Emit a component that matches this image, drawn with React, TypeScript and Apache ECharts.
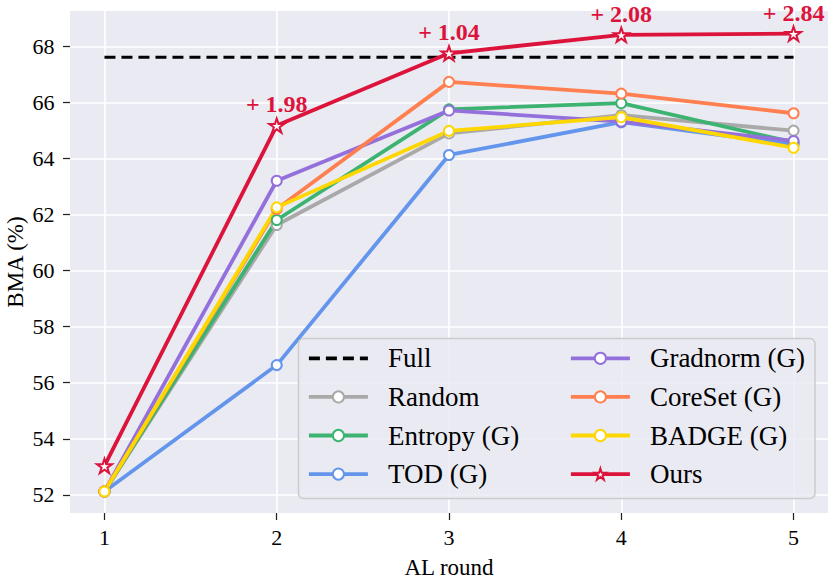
import React, { useEffect, useRef } from "react";
import * as echarts from "echarts";

const rounds = [1, 2, 3, 4, 5];
const yTicks = [52, 54, 56, 58, 60, 62, 64, 66, 68];

const fullValues = [67.62, 67.62, 67.62, 67.62, 67.62];
const randomValues = [52.12, 61.63, 64.9, 65.55, 65.0];
const entropyValues = [52.12, 61.81, 65.76, 65.98, 64.58];
const todValues = [52.12, 56.63, 64.13, 65.3, 64.5];
const gradnormValues = [52.12, 63.21, 65.72, 65.32, 64.63];
const coresetValues = [52.12, 62.2, 66.74, 66.32, 65.62];
const badgeValues = [52.12, 62.26, 64.99, 65.48, 64.39];
const oursValues = [53.03, 65.18, 67.76, 68.42, 68.46];
const gains = [null, 1.98, 1.04, 2.08, 2.84];

const FONT = "'Liberation Serif', 'Times New Roman', serif";
const STAR =
  "path://M100,0 L122.45,69.1 L195.1,69.1 L136.3,111.8 L158.8,180.9 L100,138.2 L41.2,180.9 L63.7,111.8 L4.9,69.1 L77.55,69.1 Z";

const methods = [
  { name: "Random", color: "#A9A9A9", values: randomValues },
  { name: "Entropy (G)", color: "#3CB371", values: entropyValues },
  { name: "TOD (G)", color: "#6495ED", values: todValues },
  { name: "Gradnorm (G)", color: "#9370DB", values: gradnormValues },
  { name: "CoreSet (G)", color: "#FF7F50", values: coresetValues },
  { name: "BADGE (G)", color: "#FFD700", values: badgeValues },
];

export default function App() {
  const ref = useRef<HTMLDivElement>(null);
  useEffect(() => {
    if (!ref.current) return;
    const chart = echarts.init(ref.current, null, { renderer: "svg" });
    const pair = (vals: number[]) => rounds.map((r, i) => [r, vals[i]]);

    const legendText = {
      fontFamily: FONT,
      fontSize: 27,
      lineHeight: 27,
      color: "#000",
      padding: [0, 0, 0, 15],
    };

    const series: any[] = [
      {
        type: "line",
        name: "__grid",
        data: [],
        z: 1,
        silent: true,
        markLine: {
          silent: true,
          z: 1,
          symbol: ["none", "none"],
          label: { show: false },
          lineStyle: { color: "#ffffff", width: 1.6, type: "solid" },
          emphasis: { disabled: true },
          data: [
            ...yTicks.map((v) => ({ yAxis: v })),
            ...rounds.map((v) => ({ xAxis: v })),
          ],
        },
      },
      {
        type: "line",
        name: "Full",
        data: pair(fullValues),
        z: 2,
        symbol: "none",
        lineStyle: { color: "#000", width: 3, type: [11, 6] },
        itemStyle: { color: "#000" },
        emphasis: { disabled: true },
      },
      ...methods.map((m) => ({
        type: "line",
        name: m.name,
        data: pair(m.values),
        z: 2,
        symbol: "circle",
        symbolSize: 10,
        lineStyle: { color: m.color, width: 3.8 },
        itemStyle: { color: "#ffffff", borderColor: m.color, borderWidth: 2 },
        emphasis: { disabled: true },
      })),
      {
        type: "line",
        name: "Ours",
        data: pair(oursValues),
        z: 3,
        symbol: STAR,
        symbolSize: 15,
        symbolKeepAspect: true,
        lineStyle: { color: "#DC143C", width: 3.8 },
        itemStyle: { color: "#ffffff", borderColor: "#DC143C", borderWidth: 2 },
        emphasis: { disabled: true },
        label: {
          show: true,
          position: "top",
          distance: 3,
          fontFamily: FONT,
          fontSize: 24,
          lineHeight: 20,
          fontWeight: "bold",
          color: "#DC143C",
          formatter: (p: any) => {
            const g = gains[p.dataIndex];
            return g == null ? "" : "+ " + g.toFixed(2);
          },
        },
      },
    ];

    chart.setOption({
      animation: false,
      textStyle: { fontFamily: FONT },
      grid: {
        left: 70,
        top: 11,
        width: 758,
        height: 502,
        show: true,
        backgroundColor: "#EAEAF2",
        borderWidth: 0,
        containLabel: false,
        outerBoundsMode: "none",
      },
      xAxis: {
        type: "value",
        min: 0.8,
        max: 5.2,
        name: "AL round",
        nameLocation: "middle",
        nameGap: 44,
        nameMoveOverlap: false,
        nameTextStyle: { fontFamily: FONT, fontSize: 23, lineHeight: 20, color: "#000" },
        axisLine: { show: false },
        axisTick: {
          show: true,
          customValues: rounds,
          length: 7,
          lineStyle: { color: "#222", width: 1.25 },
        },
        axisLabel: {
          customValues: rounds,
          margin: 13.5,
          fontFamily: FONT,
          fontSize: 22,
          color: "#000",
        },
        splitLine: { show: false },
      },
      yAxis: {
        type: "value",
        min: 51.35,
        max: 69.27,
        name: "BMA (%)",
        nameLocation: "middle",
        nameGap: 45,
        nameMoveOverlap: false,
        nameTextStyle: { fontFamily: FONT, fontSize: 23, lineHeight: 20, color: "#000" },
        axisLine: { show: false },
        axisTick: {
          show: true,
          customValues: yTicks,
          length: 7,
          lineStyle: { color: "#222", width: 1.25 },
        },
        axisLabel: {
          customValues: yTicks,
          margin: 15.5,
          fontFamily: FONT,
          fontSize: 22,
          color: "#000",
        },
        splitLine: { show: false },
      },
      graphic: [
        {
          type: "rect",
          z: 50,
          shape: { x: 298.5, y: 338.5, width: 516.5, height: 160, r: 5 },
          style: { fill: "rgba(234,234,242,0.8)", stroke: "#cccccc", lineWidth: 1.5 },
          silent: true,
        },
      ],
      legend: [
        {
          data: [
            { name: "Full", itemStyle: { opacity: 0 } },
            "Random",
            "Entropy (G)",
            "TOD (G)",
          ],
          orient: "vertical",
          left: 307,
          top: 344.8,
          padding: 0,
          itemGap: 11.6,
          itemWidth: 59,
          itemHeight: 14,
          z: 60,
          selectedMode: false,
          lineStyle: { width: 3.8 },
          textStyle: legendText,
        },
        {
          data: ["Gradnorm (G)", "CoreSet (G)", "BADGE (G)", "Ours"],
          orient: "vertical",
          left: 569,
          top: 344.8,
          padding: 0,
          itemGap: 11.6,
          itemWidth: 59,
          itemHeight: 14,
          z: 60,
          selectedMode: false,
          lineStyle: { width: 3.8 },
          textStyle: legendText,
        },
      ],
      series,
    });
    return () => chart.dispose();
  }, []);
  return (
    <div
      ref={ref}
      style={{ position: "absolute", left: 0, top: 0, width: 830, height: 578 }}
    />
  );
}
